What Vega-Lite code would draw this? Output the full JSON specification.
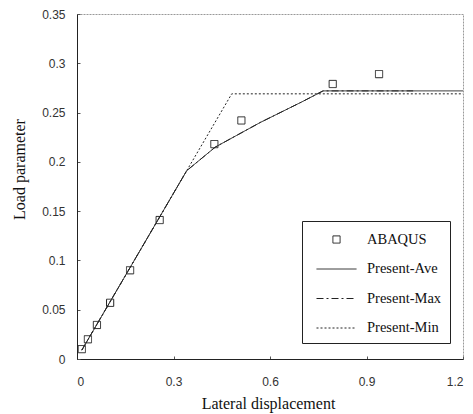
{
  "$schema": "https://vega.github.io/schema/vega-lite/v6.json",
  "autosize": {"type": "none"},
  "padding": {"left": 77, "top": 14, "right": 10, "bottom": 55},
  "width": 386,
  "height": 345,
  "background": "white",
  "config": {
    "view": {"stroke": "#999", "strokeWidth": 1, "strokeDash": [2, 1]},
    "axis": {
      "grid": false,
      "labelFont": "Liberation Sans",
      "labelFontSize": 12,
      "labelColor": "#333",
      "titleFont": "Liberation Serif",
      "titleFontSize": 16,
      "titleFontWeight": "normal",
      "titleColor": "#111",
      "domainColor": "#222",
      "tickColor": "#555",
      "tickSize": -3
    },
    "legend": {
      "orient": "none",
      "legendX": 225,
      "legendY": 207,
      "padding": 8,
      "strokeColor": "#222",
      "fillColor": "white",
      "symbolSize": 400,
      "symbolOffset": 16,
      "labelOffset": 20,
      "rowPadding": 12.5,
      "labelFont": "Liberation Serif",
      "labelFontSize": 14.5,
      "labelColor": "#111",
      "symbolStrokeColor": "#222",
      "symbolStrokeWidth": 1,
      "symbolFillColor": "transparent"
    }
  },
  "data": {
    "values": [
      {"series": "ABAQUS", "x": 0.015, "y": 0.010},
      {"series": "ABAQUS", "x": 0.034, "y": 0.020},
      {"series": "ABAQUS", "x": 0.062, "y": 0.0345},
      {"series": "ABAQUS", "x": 0.103, "y": 0.057},
      {"series": "ABAQUS", "x": 0.165, "y": 0.090},
      {"series": "ABAQUS", "x": 0.257, "y": 0.141},
      {"series": "ABAQUS", "x": 0.427, "y": 0.218},
      {"series": "ABAQUS", "x": 0.511, "y": 0.242},
      {"series": "ABAQUS", "x": 0.795, "y": 0.279},
      {"series": "ABAQUS", "x": 0.939, "y": 0.289},
      {"series": "Present-Min", "x": 0.015, "y": 0.009},
      {"series": "Present-Min", "x": 0.341, "y": 0.191},
      {"series": "Present-Min", "x": 0.481, "y": 0.269},
      {"series": "Present-Min", "x": 1.2, "y": 0.269},
      {"series": "Present-Max", "x": 0.015, "y": 0.009},
      {"series": "Present-Max", "x": 0.341, "y": 0.191},
      {"series": "Present-Max", "x": 0.43, "y": 0.215},
      {"series": "Present-Max", "x": 0.57, "y": 0.240},
      {"series": "Present-Max", "x": 0.70, "y": 0.261},
      {"series": "Present-Max", "x": 0.765, "y": 0.272},
      {"series": "Present-Max", "x": 1.045, "y": 0.272},
      {"series": "Present-Ave", "x": 0.015, "y": 0.009},
      {"series": "Present-Ave", "x": 0.341, "y": 0.191},
      {"series": "Present-Ave", "x": 0.43, "y": 0.215},
      {"series": "Present-Ave", "x": 0.57, "y": 0.240},
      {"series": "Present-Ave", "x": 0.70, "y": 0.261},
      {"series": "Present-Ave", "x": 0.765, "y": 0.272},
      {"series": "Present-Ave", "x": 1.2, "y": 0.272}
    ]
  },
  "encoding": {
    "x": {
      "field": "x", "type": "quantitative",
      "scale": {"domain": [0, 1.2], "nice": false, "zero": false},
      "axis": {"title": "Lateral displacement", "values": [0, 0.3, 0.6, 0.9, 1.2], "format": "~g", "labelPadding": 20, "titleX": 191, "titleY": 44, "titleBaseline": "middle"}
    },
    "y": {
      "field": "y", "type": "quantitative",
      "scale": {"domain": [0, 0.35], "nice": false},
      "axis": {"title": "Load parameter", "values": [0, 0.05, 0.1, 0.15, 0.2, 0.25, 0.3, 0.35], "format": "~g", "labelPadding": 15, "titleX": -58, "titleY": 155, "titleBaseline": "middle", "titleAngle": -90}
    }
  },
  "layer": [
    {
      "transform": [{"filter": "datum.series !== 'ABAQUS'"}],
      "mark": {"type": "line", "stroke": "#222", "strokeWidth": 1, "clip": true},
      "encoding": {
        "strokeDash": {
          "field": "series", "type": "nominal",
          "scale": {"domain": ["ABAQUS", "Present-Ave", "Present-Max", "Present-Min"], "range": [[1, 0], [1, 0], [7, 3, 2, 3], [2, 2]]},
          "legend": {"title": null}
        }
      }
    },
    {
      "transform": [{"filter": "datum.series === 'ABAQUS'"}],
      "mark": {"type": "point", "filled": false, "size": 400, "stroke": "#222", "strokeWidth": 1, "opacity": 1},
      "encoding": {
        "shape": {
          "field": "series", "type": "nominal",
          "scale": {"domain": ["ABAQUS", "Present-Ave", "Present-Max", "Present-Min"], "range": ["M-0.36,-0.36H0.36V0.36H-0.36Z", "M-2,0H2", "M-2,0H2", "M-2,0H2"]},
          "legend": {"title": null}
        },
        "strokeDash": {
          "field": "series", "type": "nominal",
          "legend": {"title": null}
        }
      }
    }
  ]
}
